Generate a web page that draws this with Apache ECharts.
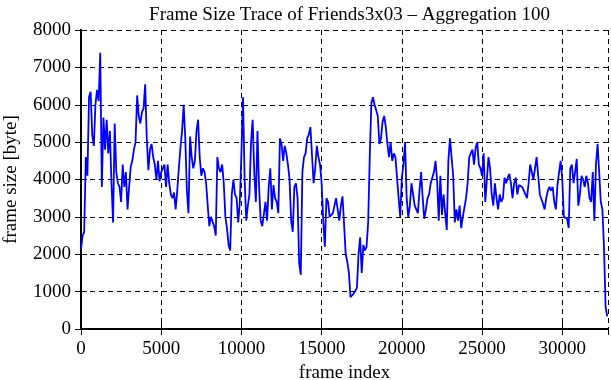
<!DOCTYPE html>
<html>
<head>
<meta charset="utf-8">
<script src="https://cdn.jsdelivr.net/npm/echarts@6/dist/echarts.min.js"></script>
<style>
  html, body { margin: 0; padding: 0; background: #fff; }
  #chart { width: 611px; height: 380px; }
</style>
</head>
<body>
<div id="chart"></div>
<script>
// one value per 100 frames (aggregation 100), frame size in bytes
const AGG = 100;
const sizes0to5k = [2130, 2500, 2600, 4600, 4100, 6200, 6350, 5200, 4900, 6000,
  6400, 6100, 7390, 3800, 5660, 4800, 5600, 4700, 5300, 3900,
  2850, 5500, 4200, 3900, 3800, 3400, 4400, 3800, 4200, 3200,
  3800, 4350, 4500, 4800, 5000, 6250, 5700, 5500, 5800, 5900,
  6550, 5100, 4250, 4800, 4950, 4600, 4400, 4000, 4500, 3950];
const sizes5to10k = [4200, 4300, 4400, 3800, 4400, 3900, 3600, 3500, 3650, 3200,
  3700, 4300, 4850, 5300, 6000, 5100, 3700, 3100, 5150, 4600,
  4300, 4500, 5300, 5600, 4600, 4100, 4300, 4200, 3900, 3300,
  2750, 3000, 2950, 2750, 2500, 4600, 4300, 4200, 4400, 3900,
  3000, 2700, 2250, 2100, 3600, 4000, 3600, 3500, 2850, 3400];
const sizes10to15k = [4700, 6200, 4000, 2900, 3300, 3600, 5000, 5600, 4200, 3400,
  5300, 3800, 2900, 2750, 2700, 3400, 2900, 3800, 4300, 3200,
  3850, 3500, 3400, 3100, 5100, 4950, 4500, 4900, 4700, 4400,
  4000, 2900, 2600, 3800, 3900, 3500, 1760, 1450, 4200, 4600,
  4700, 5100, 5200, 5400, 5450, 3900, 4300, 4900, 4600, 4400];
const sizes15to20k = [3900, 2900, 2200, 3500, 3400, 3000, 3000, 3100, 3300, 3500,
  3200, 2900, 3300, 3550, 2800, 2000, 1800, 1500, 850, 900,
  950, 900, 1100, 2000, 2450, 1500, 2250, 2100, 2200, 2850,
  4600, 6050, 6200, 6000, 5850, 5700, 4950, 5100, 5550, 5700,
  5400, 4950, 4600, 5000, 4500, 4700, 4600, 4600, 3500, 3000];
const sizes20to25k = [4060, 4400, 5000, 3500, 3000, 3300, 3900, 3900, 3300, 3300,
  3100, 3700, 4200, 3500, 2950, 3200, 3500, 3600, 3900, 3900,
  4200, 4500, 3950, 2900, 4100, 3050, 3600, 3100, 2650, 4500,
  5100, 4600, 4100, 2850, 3200, 2900, 3300, 2700, 3000, 3250,
  3500, 3900, 4600, 4600, 4800, 4400, 4850, 5000, 4400, 4300];
const sizes25to30k = [4100, 4700, 3400, 4000, 4600, 4300, 3600, 3300, 3900, 3500,
  3200, 3600, 3400, 3500, 4050, 3900, 4050, 4150, 3900, 3500,
  3900, 4050, 3600, 3850, 3900, 3800, 3700, 3700, 3500, 3900,
  4400, 4200, 4000, 4300, 4600, 4100, 3600, 3600, 3350, 3200,
  3500, 3700, 3800, 3700, 3800, 3400, 3200, 3850, 4200, 4500];
const sizes30kToEnd = [4000, 3000, 3000, 2950, 2700, 4300, 4400, 3900, 4200, 4550,
  3300, 3600, 4100, 4000, 3800, 4100, 3900, 3500, 3400, 4200,
  2900, 4400, 4950, 4200, 3400, 3200, 2200, 600, 340];

const xTicks = [0, 5000, 10000, 15000, 20000, 25000, 30000];
const yTicks = [0, 1000, 2000, 3000, 4000, 5000, 6000, 7000, 8000];
const lastFrame = 32850;

const frameSizes = [].concat(sizes0to5k, sizes5to10k, sizes10to15k,
  sizes15to20k, sizes20to25k, sizes25to30k, sizes30kToEnd);
const traceData = frameSizes.map((v, i) => [i * AGG, v]);

const font = "Liberation Serif";
const plain = (val) => String(val);
const mirror = {
  axisLabel: { show: false },
  axisLine: { show: true, lineStyle: { color: "#000", width: 2 } },
  axisTick: { show: true, inside: true, length: 6, lineStyle: { color: "#000" } },
  splitLine: { show: false },
};

const charts = echarts.init(document.getElementById("chart"));
charts.setOption({
  animation: false,
  title: {
    text: "Frame Size Trace of Friends3x03 – Aggregation 100",
    left: 344.5,
    top: 1,
    textAlign: "center",
    textStyle: { fontFamily: font, fontSize: 19, fontWeight: "normal", color: "#000" },
  },
  grid: { left: 81, right: 3, top: 30, bottom: 51, containLabel: false, outerBoundsMode: "none" },
  xAxis: [
    {
      type: "value",
      min: xTicks[0],
      max: lastFrame,
      interval: xTicks[1] - xTicks[0],
      name: "frame index",
      nameLocation: "middle",
      nameGap: 32,
      nameTextStyle: { fontFamily: font, fontSize: 19, color: "#000" },
      axisLine: { lineStyle: { color: "#000", width: 2 } },
      axisTick: { inside: true, length: 6, lineStyle: { color: "#000" } },
      axisLabel: { fontFamily: font, fontSize: 19, color: "#000", margin: 11, showMaxLabel: false, formatter: plain },
      splitLine: { show: true, lineStyle: { color: "#000", type: [5, 4], width: 1 } },
    },
    Object.assign({ type: "value", position: "top", min: 0, max: lastFrame, interval: 5000 }, mirror),
  ],
  yAxis: [
    {
      type: "value",
      min: yTicks[0],
      max: yTicks[yTicks.length - 1],
      interval: yTicks[1] - yTicks[0],
      name: "frame size [byte]",
      nameLocation: "middle",
      nameGap: 60,
      nameRotate: 90,
      nameTextStyle: { fontFamily: font, fontSize: 19, color: "#000" },
      axisLine: { show: true, lineStyle: { color: "#000", width: 2 } },
      axisTick: { show: true, inside: true, length: 6, lineStyle: { color: "#000" } },
      axisLabel: { fontFamily: font, fontSize: 19, color: "#000", margin: 10, formatter: plain },
      splitLine: { show: true, lineStyle: { color: "#000", type: [5, 4], width: 1 } },
    },
    Object.assign({ type: "value", position: "right", min: 0, max: 8000, interval: 1000 }, mirror),
  ],
  series: [
    {
      type: "line",
      data: traceData,
      showSymbol: false,
      silent: true,
      lineStyle: { color: "#0000ff", width: 1.8 },
      itemStyle: { color: "#0000ff" },
    },
  ],
});
</script>
</body>
</html>
